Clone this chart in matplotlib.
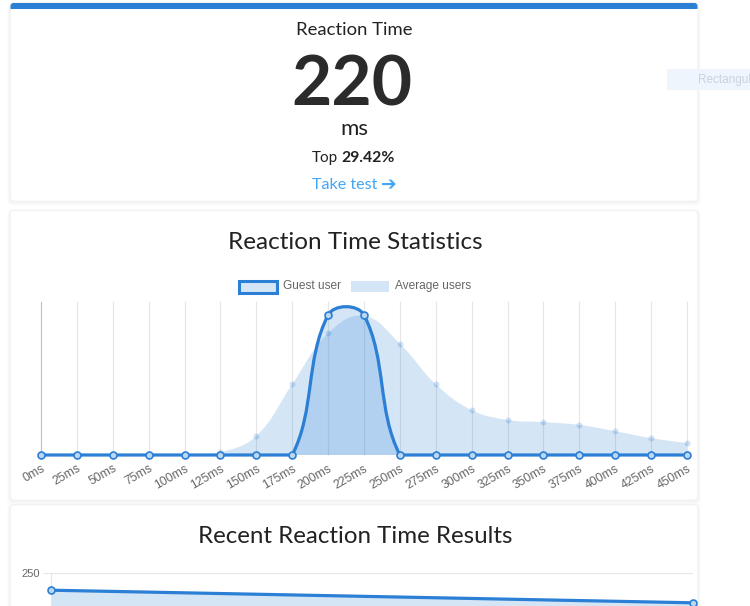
"""
Reaction time result page: score card, distribution chart and recent results.
"""
import numpy as np
import matplotlib
matplotlib.use("Agg")
import matplotlib.pyplot as plt
from matplotlib.patches import FancyBboxPatch, Rectangle, PathPatch
from matplotlib.path import Path

# ---------------------------------------------------------------------------
# Data
# ---------------------------------------------------------------------------
reaction_ms = "220"
top_percent = "29.42%"

time_labels = ["0ms", "25ms", "50ms", "75ms", "100ms", "125ms", "150ms", "175ms",
               "200ms", "225ms", "250ms", "275ms", "300ms", "325ms", "350ms",
               "375ms", "400ms", "425ms", "450ms"]
guest_user = [0, 0, 0, 0, 0, 0, 0, 0, 20, 20, 0, 0, 0, 0, 0, 0, 0, 0, 0]
average_users = [0, 0, 0, 0, 0, 0.4, 2.7, 10.1, 17.4, 19.9, 15.9, 10.1, 6.4,
                 5.0, 4.7, 4.3, 3.4, 2.4, 1.7]

recent_index = [0, 1]
recent_results = [225, 207]

# ---------------------------------------------------------------------------
# Style
# ---------------------------------------------------------------------------
W, H = 750, 606
BLUE = "#2b7fd4"
FILL = "#d4e5f6"
GRID = "#e6e6e6"
TICK_TXT = "#666666"
CARD_FONT = "Lato"
CHART_FONT = "Liberation Sans"


def px_rect(x0, y0, x1, y1):
    """Pixel box (top-left origin) -> figure fraction rect."""
    return [x0 / W, 1 - y1 / H, (x1 - x0) / W, (y1 - y0) / H]


def card(ax, x0, y0, x1, y1):
    for i in range(1, 8):
        ax.add_patch(FancyBboxPatch((x0 - i * 0.5, y0 - i * 0.2), x1 - x0 + i * 1.0,
                                    y1 - y0 + i * 0.9,
                                    boxstyle="round,pad=0,rounding_size=5",
                                    fc="black", ec="none", alpha=0.008, zorder=1))
    ax.add_patch(FancyBboxPatch((x0, y0), x1 - x0, y1 - y0,
                                boxstyle="round,pad=0,rounding_size=4",
                                fc="white", ec="#f2f2f2", lw=0.5, zorder=2))


def chartjs_spline(ax, xs, ys, tension=0.4):
    """Bezier curve through the points, built like Chart.js v2 splineCurve."""
    pts = ax.transData.transform(np.column_stack([xs, ys]))
    bx0, by0, bx1, by1 = ax.bbox.extents
    n = len(pts)
    cp_prev = np.zeros_like(pts)
    cp_next = np.zeros_like(pts)
    for i in range(n):
        p = pts[i]
        a = pts[i - 1] if i > 0 else p
        b = pts[i + 1] if i < n - 1 else p
        d01 = np.hypot(*(p - a))
        d12 = np.hypot(*(b - p))
        tot = d01 + d12
        s01 = d01 / tot if tot > 0 else 0
        s12 = d12 / tot if tot > 0 else 0
        cp_prev[i] = p - tension * s01 * (b - a)
        cp_next[i] = p + tension * s12 * (b - a)
    for cp in (cp_prev, cp_next):
        cp[:, 0] = np.clip(cp[:, 0], bx0, bx1)
        cp[:, 1] = np.clip(cp[:, 1], by0, by1)
    verts = [pts[0]]
    codes = [Path.MOVETO]
    for i in range(1, n):
        verts += [cp_next[i - 1], cp_prev[i], pts[i]]
        codes += [Path.CURVE4] * 3
    verts = ax.transData.inverted().transform(np.array(verts))
    return verts, codes


def draw_dataset(ax, xs, ys, fill_alpha, line=True, z=3):
    verts, codes = chartjs_spline(ax, xs, ys)
    fverts = np.vstack([verts, [[xs[-1], 0], [xs[0], 0], [xs[0], 0]]])
    fcodes = codes + [Path.LINETO, Path.LINETO, Path.CLOSEPOLY]
    ax.add_patch(PathPatch(Path(fverts, fcodes), fc=BLUE, alpha=fill_alpha,
                           ec="none", zorder=z))
    if line:
        ax.add_patch(PathPatch(Path(verts, codes), fc="none", ec=BLUE, lw=2.3,
                               zorder=z + 1, clip_on=False, capstyle="round"))


# ---------------------------------------------------------------------------
# Figure / page
# ---------------------------------------------------------------------------
fig = plt.figure(figsize=(W / 100, H / 100), dpi=100, facecolor="white")
bg = fig.add_axes([0, 0, 1, 1])
bg.set_xlim(0, W)
bg.set_ylim(H, 0)
bg.axis("off")

card(bg, 10.5, 3, 697.5, 201)
card(bg, 10.5, 210.5, 697.5, 500)
card(bg, 10.5, 505, 697.5, 640)

# blue strip on top of the first card
bg.add_patch(FancyBboxPatch((10.5, 3), 687, 8, boxstyle="round,pad=0,rounding_size=3",
                            fc=BLUE, ec="none", zorder=3))
bg.add_patch(Rectangle((10.5, 9), 687, 5, fc="white", ec="none", zorder=3))

# faint tooltip-like box at the right edge (cut by the page edge)
bg.add_patch(Rectangle((667, 69), 90, 21, fc="#eef5fc", ec="none", zorder=4))
bg.text(698, 80, "Rectangular", fontsize=8.5, family=CHART_FONT, color="#c9d3de",
        va="center", ha="left", zorder=5)

# score card text
bg.text(354.5, 35, "Reaction Time", fontsize=13.3, family=CARD_FONT, color="#222222",
        ha="center", va="baseline", zorder=5)
bg.text(352, 105, reaction_ms, fontsize=50, family=CARD_FONT, fontweight="bold",
        color="#2b2b2b", ha="center", va="baseline", zorder=5)
bg.text(354.5, 135, "ms", fontsize=16, family=CARD_FONT, color="#222222",
        ha="center", va="baseline", zorder=5)
bg.text(338, 162, "Top", fontsize=11, family=CARD_FONT, color="#222222",
        ha="right", va="baseline", zorder=5)
bg.text(341, 162, top_percent, fontsize=11.3, family=CARD_FONT, fontweight="bold",
        color="#222222", ha="left", va="baseline", zorder=5)
bg.text(312, 189, "Take test", fontsize=11.6, family=CARD_FONT, color="#42a5f5",
        ha="left", va="baseline", zorder=5)
bg.text(381, 190, "\u2794", fontsize=13.5, family="DejaVu Sans", fontweight="bold",
        color="#42a5f5", ha="left", va="baseline", zorder=5)

# card titles
bg.text(355, 249, "Reaction Time Statistics", fontsize=17.5, family=CARD_FONT,
        color="#222222", ha="center", va="baseline", zorder=5)
bg.text(355, 543, "Recent Reaction Time Results", fontsize=17.4, family=CARD_FONT,
        color="#222222", ha="center", va="baseline", zorder=5)

# legend of the statistics chart
bg.add_patch(Rectangle((239, 280.5), 38, 12, fc=FILL, ec=BLUE, lw=2.2, zorder=5))
bg.text(283, 286, "Guest user", fontsize=8.6, family=CHART_FONT, color=TICK_TXT,
        ha="left", va="center", zorder=5)
bg.add_patch(Rectangle((351, 281), 38, 11, fc=FILL, ec="none", zorder=5))
bg.text(395, 286, "Average users", fontsize=8.6, family=CHART_FONT, color=TICK_TXT,
        ha="left", va="center", zorder=5)

# ---------------------------------------------------------------------------
# Distribution chart
# ---------------------------------------------------------------------------
x = np.arange(len(time_labels))
ax = fig.add_axes(px_rect(41, 302, 687, 455))
ax.set_xlim(0, len(time_labels) - 1)
ax.set_ylim(0, 153 / 7)
ax.patch.set_alpha(0)
for s in ax.spines.values():
    s.set_visible(False)
ax.set_yticks([])

for xi in x:
    ax.plot([xi, xi], [0, 153 / 7], color="#bfbfbf" if xi == 0 else GRID, lw=0.8,
            zorder=1, clip_on=False)

draw_dataset(ax, x, average_users, 0.2, line=False, z=2)
ax.plot(x, average_users, "o", ms=4.3, color=BLUE, alpha=0.22, mec="none",
        zorder=3, clip_on=False)
draw_dataset(ax, x, guest_user, 0.2, line=True, z=5)
ax.plot(x, guest_user, "o", ms=5, mfc="#bcd7f1", mec=BLUE, mew=1.2, zorder=7,
        clip_on=False)

ax.set_xticks(x)
ax.set_xticklabels(time_labels, rotation=30, ha="right", va="top",
                   rotation_mode="anchor", fontsize=8.8, family=CHART_FONT,
                   color=TICK_TXT)
ax.tick_params(axis="x", length=0, pad=5.5)

# ---------------------------------------------------------------------------
# Recent results chart (cut off by the page bottom)
# ---------------------------------------------------------------------------
ax2 = fig.add_axes(px_rect(50.7, 572.7, 692.7, 572.7 + 250 * 0.7))
ax2.set_xlim(recent_index[0], recent_index[-1])
ax2.set_ylim(0, 250)
ax2.patch.set_alpha(0)
for name in ("top", "right", "bottom"):
    ax2.spines[name].set_visible(False)
ax2.spines["left"].set_color(GRID)
ax2.spines["left"].set_linewidth(0.8)
ax2.set_yticks([250])
ax2.set_yticklabels(["250"], fontsize=8, family=CHART_FONT, color=TICK_TXT)
ax2.tick_params(axis="y", length=6, color=GRID, width=0.8, pad=2)
ax2.set_xticks([])
ax2.yaxis.grid(True, color=GRID, lw=0.8)
ax2.fill_between(recent_index, recent_results, 0, color=FILL, lw=0, zorder=2)
ax2.plot(recent_index, recent_results, color=BLUE, lw=2.3, zorder=3, clip_on=False)
ax2.plot(recent_index, recent_results, "o", ms=5, mfc="#bcd7f1", mec=BLUE, mew=1.2,
         zorder=4, clip_on=False)

fig.savefig("out.png", dpi=100, facecolor=fig.get_facecolor())
